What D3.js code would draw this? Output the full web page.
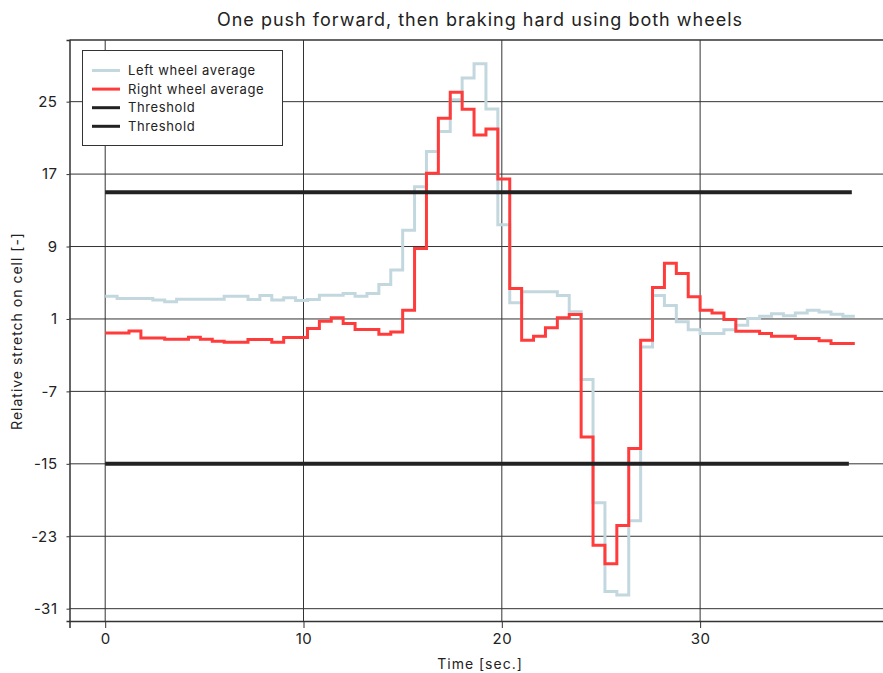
<!DOCTYPE html>
<html>
<head>
<meta charset="utf-8">
<script src="https://cdn.jsdelivr.net/npm/d3@7"></script>
<style>
  body { margin: 0; background: #fff; }
  svg text { font-family: Inter, "Open Sans", sans-serif; fill: #222; }
</style>
</head>
<body>
<script>
// sample spacing of the averaged signal (seconds)
const sampleStep = 0.6;

const leftWheel = [3.52, 3.27, 3.27, 3.27, 3.08, 2.89, 3.19, 3.19, 3.19, 3.19,
  3.52, 3.52, 3.16, 3.6, 3.08, 3.35, 3.05, 3.15, 3.63, 3.63,
  3.82, 3.52, 3.82, 4.8, 6.4, 10.8, 15.6, 19.5, 21.7, 25.2,
  27.6, 29.2, 24.2, 11.4, 2.8, 4.0, 4.0, 4.0, 3.6, 1.8,
  -5.7, -19.3, -29.1, -29.5, -21.3, -2.1, 3.6, 2.5, 0.7, -0.2,
  -0.6, -0.6, -0.2, 0.3, 1.05, 1.3, 1.57, 1.35, 1.67, 1.97, 1.78, 1.53, 1.3];

const rightWheel = [-0.54, -0.54, -0.32, -1.09, -1.09, -1.23, -1.23, -1.01, -1.23, -1.45,
  -1.56, -1.56, -1.27, -1.27, -1.56, -1.05, -1.05, -0.05, 0.76, 1.12,
  0.5, -0.16, -0.16, -0.68, -0.43, 1.97, 8.79, 17.08, 23.17, 26.04,
  24.16, 21.32, 21.98, 16.45, 4.37, -1.34, -0.9, 0.02, 1.12, 1.5,
  -12.03, -24.0, -26.03, -21.8, -13.3, -1.34, 4.48, 7.14, 6.03, 3.44,
  1.97, 1.67, 0.94, -0.35, -0.35, -0.6, -0.9, -0.9, -1.16, -1.16, -1.42, -1.71, -1.71];

const thresholdLevels = [15, -15];
const thresholdEnds = [37.65, 37.5];

const xTicks = [0, 10, 20, 30];
const yTicks = [-31, -23, -15, -7, 1, 9, 17, 25];

const legendLabels = ["Left wheel average", "Right wheel average", "Threshold", "Threshold"];
const colors = { left: "#c3d8de", right: "#ff3c3c", threshold: "#222222" };

const width = 883, height = 673;
const plot = { left: 69.5, right: 890.5, top: 40, bottom: 621 };

const svg = d3.select("body").append("svg")
  .attr("width", width)
  .attr("height", height);

const x = d3.scaleLinear().domain([-1.8, 39.6]).range([plot.left, plot.right]);
const y = d3.scaleLinear().domain([-32.36, 31.81]).range([plot.bottom, plot.top]);

// grid
svg.append("g")
  .selectAll("line")
  .data(yTicks)
  .enter().append("line")
  .attr("x1", plot.left).attr("x2", plot.right)
  .attr("y1", d => y(d)).attr("y2", d => y(d))
  .attr("stroke", "#333").attr("stroke-width", 1);

svg.append("g")
  .selectAll("line")
  .data(xTicks)
  .enter().append("line")
  .attr("x1", d => x(d)).attr("x2", d => x(d))
  .attr("y1", plot.top).attr("y2", plot.bottom)
  .attr("stroke", "#333").attr("stroke-width", 1);

// axes
const xAxis = svg.append("g")
  .attr("transform", `translate(0,${plot.bottom})`)
  .call(d3.axisBottom(x).tickValues(xTicks).tickSize(7).tickPadding(5).tickFormat(d3.format("d")));

const yAxis = svg.append("g")
  .attr("transform", `translate(${plot.left},0)`)
  .call(d3.axisLeft(y).tickValues(yTicks).tickSize(3).tickPadding(9).tickFormat(d3.format("d")));

[xAxis, yAxis].forEach(g => {
  g.select(".domain").attr("stroke", "#333").attr("stroke-width", 1.5);
  g.selectAll(".tick line").attr("stroke", "#333").attr("stroke-width", 1);
  g.selectAll(".tick text").attr("font-size", 15).attr("fill", "#222")
    .style("font-family", "Inter, sans-serif")
    .style("letter-spacing", "0.5px");
});
yAxis.selectAll(".tick text").text(d => d < 0 ? "-" + Math.abs(d) : d);

svg.append("line")
  .attr("x1", plot.left).attr("x2", plot.right)
  .attr("y1", plot.top).attr("y2", plot.top)
  .attr("stroke", "#333").attr("stroke-width", 1.5);

// step series
const stepLine = d3.line()
  .x(d => x(d[0]))
  .y(d => y(d[1]))
  .curve(d3.curveStepAfter);

const toSteps = vals => {
  const pts = vals.map((v, i) => [i * sampleStep, v]);
  pts.push([vals.length * sampleStep, vals[vals.length - 1]]);
  return pts;
};

svg.append("path")
  .datum(toSteps(leftWheel))
  .attr("d", stepLine)
  .attr("fill", "none")
  .attr("stroke", colors.left)
  .attr("stroke-width", 3);

svg.append("path")
  .datum(toSteps(rightWheel))
  .attr("d", stepLine)
  .attr("fill", "none")
  .attr("stroke", colors.right)
  .attr("stroke-width", 3);

svg.append("g")
  .selectAll("line")
  .data(thresholdLevels)
  .enter().append("line")
  .attr("x1", x(0))
  .attr("x2", (d, i) => x(thresholdEnds[i]))
  .attr("y1", d => y(d)).attr("y2", d => y(d))
  .attr("stroke", colors.threshold)
  .attr("stroke-width", 4);

// title and labels
svg.append("text")
  .attr("x", 480).attr("y", 26)
  .attr("text-anchor", "middle")
  .attr("font-size", 18)
  .style("letter-spacing", "1px")
  .text("One push forward, then braking hard using both wheels");

svg.append("text")
  .attr("x", 480).attr("y", 669)
  .attr("text-anchor", "middle")
  .attr("font-size", 14)
  .style("letter-spacing", "1px")
  .text("Time [sec.]");

svg.append("text")
  .attr("transform", "translate(22,331) rotate(-90)")
  .attr("text-anchor", "middle")
  .attr("font-size", 14)
  .style("letter-spacing", "1px")
  .text("Relative stretch on cell [-]");

// legend
const legend = svg.append("g");
legend.append("rect")
  .attr("x", 82.5).attr("y", 50.5)
  .attr("width", 200).attr("height", 95)
  .attr("fill", "#fff")
  .attr("stroke", "#333").attr("stroke-width", 1);

const legendColors = [colors.left, colors.right, colors.threshold, colors.threshold];
const rows = legend.selectAll("g.row")
  .data(legendLabels)
  .enter().append("g")
  .attr("class", "row")
  .attr("transform", (d, i) => `translate(0,${70.5 + i * 18.6})`);

rows.append("line")
  .attr("x1", 92).attr("x2", 120)
  .attr("stroke", (d, i) => legendColors[i])
  .attr("stroke-width", 3);

rows.append("text")
  .attr("x", 128).attr("dy", "0.35em")
  .attr("font-size", 13)
  .style("letter-spacing", "0.6px")
  .text(d => d);
</script>
</body>
</html>
